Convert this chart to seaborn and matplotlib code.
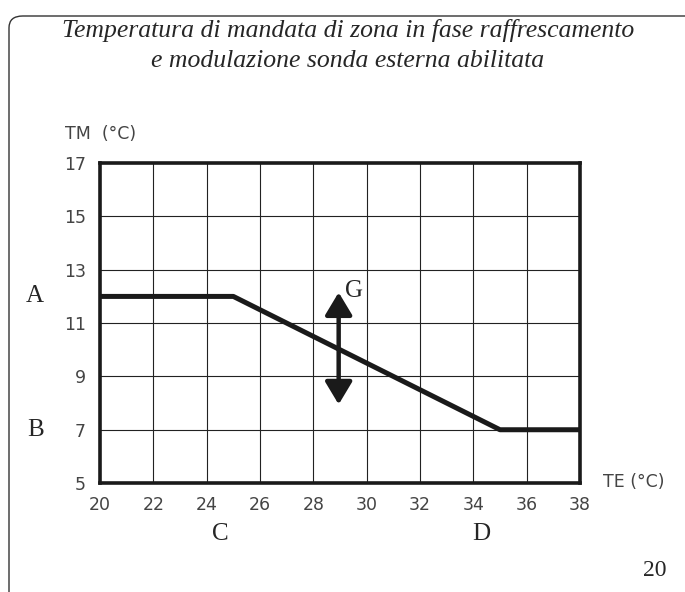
import matplotlib
matplotlib.use("Agg")
import matplotlib.pyplot as plt
import seaborn as sns
import pandas as pd
from matplotlib.patches import FancyBboxPatch

# curve points (TE, TM)
te = [20, 25, 35, 38]
tm = [12, 12, 7, 7]
x_ticks = [20, 22, 24, 26, 28, 30, 32, 34, 36, 38]
y_ticks = [5, 7, 9, 11, 13, 15, 17]
arrow_x = 28.95
arrow_y = [7.95, 12.15]

sns.set_style("white")
plt.rcParams['font.family'] = ['DejaVu Sans']

df = pd.DataFrame({'TE': te, 'TM': tm})

fig = plt.figure(figsize=(6.85, 5.92), dpi=100)
ax = fig.add_axes([0.146, 0.184, 0.7007, 0.5405])

sns.lineplot(data=df, x='TE', y='TM', ax=ax, color='#1a1a1a', linewidth=3.6)

ax.set_xlim(20, 38)
ax.set_ylim(5, 17)
ax.set_xticks(x_ticks)
ax.set_yticks(y_ticks)
ax.grid(True, color='#222222', linewidth=0.8)
for s in ax.spines.values():
    s.set_linewidth(2.6)
    s.set_color('#1a1a1a')
ax.tick_params(length=0, labelsize=12.5, colors='#444444')
ax.tick_params(axis='x', pad=9)
ax.tick_params(axis='y', pad=10)
ax.set_xlabel('')
ax.set_ylabel('')

# double arrow G
ax.annotate('', xy=(arrow_x, arrow_y[1]), xytext=(arrow_x, arrow_y[0]),
            arrowprops=dict(arrowstyle='<|-|>,head_length=0.55,head_width=0.33',
                            color='#1a1a1a', lw=3.2, mutation_scale=25,
                            shrinkA=0, shrinkB=0))
ax.text(29.2, 12.2, 'G', fontsize=18, family='Liberation Serif',
        va='center', ha='left')

# letters
ax.text(-0.135, 12, 'A', transform=ax.get_yaxis_transform(), fontsize=18,
        family='Liberation Serif', va='center', ha='center')
ax.text(-0.135, 7, 'B', transform=ax.get_yaxis_transform(), fontsize=18,
        family='Liberation Serif', va='center', ha='center')
ax.text(24.5, -0.16, 'C', transform=ax.get_xaxis_transform(), fontsize=18,
        family='Liberation Serif', va='center', ha='center')
ax.text(34.3, -0.16, 'D', transform=ax.get_xaxis_transform(), fontsize=18,
        family='Liberation Serif', va='center', ha='center')

# axis names
fig.text(101 / 685, 1 - 134 / 592, 'TM  (°C)', fontsize=12.5, color='#444444',
         ha='center', va='center')
fig.text(634 / 685, 1 - 482 / 592, 'TE (°C)', fontsize=12.5, color='#444444',
         ha='center', va='center')

# title
fig.text(0.508, 1 - 30 / 592, 'Temperatura di mandata di zona in fase raffrescamento',
         fontsize=18.5, style='italic', family='Liberation Serif', ha='center', va='center')
fig.text(0.508, 1 - 61 / 592, 'e modulazione sonda esterna abilitata',
         fontsize=18.5, style='italic', family='Liberation Serif', ha='center', va='center')

fig.text(655 / 685, 1 - 571 / 592, '20', fontsize=17, family='Liberation Serif',
         ha='center', va='center')

# rounded frame
frame = FancyBboxPatch((9 / 685, -0.05), 1.2, 1 - 16 / 592 + 0.05,
                       boxstyle='round,pad=0,rounding_size=0.02',
                       transform=fig.transFigure, fill=False,
                       edgecolor='#333333', linewidth=1.0)
fig.patches.append(frame)

fig.savefig('out.png', dpi=100)
